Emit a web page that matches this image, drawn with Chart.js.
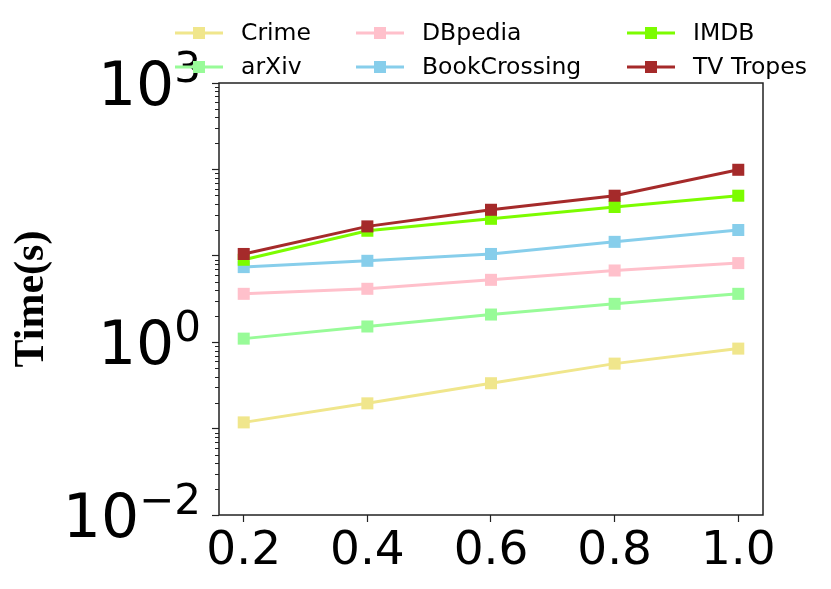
<!DOCTYPE html>
<html>
<head>
<meta charset="utf-8">
<script src="https://cdn.jsdelivr.net/npm/chart.js@4/dist/chart.umd.min.js"></script>
<style>
  html, body { margin: 0; padding: 0; background: #fff; }
  #timeChart { display: block; }
</style>
</head>
<body>
<canvas id="timeChart" width="831" height="589"></canvas>
<script>
// sampling ratio on the x axis
const ratios = [0.2, 0.4, 0.6, 0.8, 1.0];

// running time in seconds
const crime        = [0.118, 0.196, 0.335, 0.565, 0.843];
const arxiv        = [1.10, 1.52, 2.09, 2.78, 3.63];
const dbpedia      = [3.63, 4.15, 5.27, 6.76, 8.23];
const bookCrossing = [7.4, 8.75, 10.5, 14.5, 19.9];
const imdb         = [9.0, 19.5, 26.8, 36.7, 49.6];
const tvTropes     = [10.5, 21.9, 34.1, 49.6, 99.0];

const seriesNames  = ['Crime', 'arXiv', 'DBpedia', 'BookCrossing', 'IMDB', 'TV Tropes'];
const seriesValues = [crime, arxiv, dbpedia, bookCrossing, imdb, tvTropes];
const seriesColors = ['#f0e68c', '#98fb98', '#ffc0cb', '#87ceeb', '#7cfc00', '#a52a2a'];

const xTickValues = [0.2, 0.4, 0.6, 0.8, 1.0];
const yTickValues = [0.01, 0.1, 1, 10, 100, 1000];
// only these decades get a label (base 10 + exponent)
const yLabelled = [0.01, 1, 1000];
const yExponents = ['\u22122', '0', '3'];

const axisColor = '#222';

const datasets = seriesNames.map((name, i) => ({
  label: name,
  data: ratios.map((r, j) => ({ x: r, y: seriesValues[i][j] })),
  borderColor: seriesColors[i],
  backgroundColor: seriesColors[i],
  borderWidth: 3,
  pointStyle: 'rect',
  pointRadius: 8.5,
  pointHoverRadius: 8.5,
  pointBorderWidth: 0,
  order: seriesNames.length - i,
  tension: 0
}));

// box around the plot, minor log ticks, and 10^n labels with a raised exponent
const framePlugin = {
  id: 'frame',
  afterDraw(chart) {
    const { ctx, chartArea: a } = chart;
    const y = chart.scales.y;
    ctx.save();
    ctx.strokeStyle = axisColor;
    ctx.lineWidth = 1.5;
    ctx.strokeRect(a.left, a.top, a.right - a.left, a.bottom - a.top);
    ctx.lineWidth = 1;
    for (let e = -2; e < 3; e++) {
      for (let k = 2; k <= 9; k++) {
        const py = Math.round(y.getPixelForValue(k * Math.pow(10, e))) + 0.5;
        ctx.beginPath();
        ctx.moveTo(a.left - 4, py);
        ctx.lineTo(a.left, py);
        ctx.stroke();
      }
    }

    const baseFont = '60px "DejaVu Sans"';
    const expFont = '42px "DejaVu Sans"';
    const rightEdge = a.left - 18;
    ctx.fillStyle = '#000';
    ctx.textAlign = 'left';
    ctx.textBaseline = 'alphabetic';
    yLabelled.forEach((v, i) => {
      const py = y.getPixelForValue(v);
      ctx.font = baseFont;
      const wBase = ctx.measureText('10').width;
      ctx.font = expFont;
      const wExp = ctx.measureText(yExponents[i]).width;
      const x0 = rightEdge - wBase - wExp;
      ctx.font = baseFont;
      ctx.fillText('10', x0, py + 22);
      ctx.font = expFont;
      ctx.fillText(yExponents[i], x0 + wBase, py - 1);
    });
    ctx.restore();
  }
};

// legend in three columns, two rows, above the plot
const legendPlugin = {
  id: 'gridLegend',
  afterDraw(chart) {
    const { ctx } = chart;
    const cols = [175, 356, 627];
    const rows = [33, 67];
    ctx.save();
    ctx.font = '23.5px "DejaVu Sans"';
    ctx.textBaseline = 'middle';
    chart.data.datasets.forEach((ds, i) => {
      const x0 = cols[Math.floor(i / 2)];
      const y0 = rows[i % 2];
      ctx.strokeStyle = ds.borderColor;
      ctx.lineWidth = 3;
      ctx.beginPath();
      ctx.moveTo(x0, y0);
      ctx.lineTo(x0 + 48, y0);
      ctx.stroke();
      ctx.fillStyle = ds.backgroundColor;
      ctx.fillRect(x0 + 24 - 6, y0 - 6, 12, 12);
      ctx.fillStyle = '#000';
      ctx.fillText(ds.label, x0 + 66, y0 + 1);
    });
    ctx.restore();
  }
};

new Chart(document.getElementById('timeChart'), {
  type: 'line',
  data: { datasets: datasets },
  options: {
    responsive: false,
    animation: false,
    devicePixelRatio: 1,
    layout: { padding: { top: 83, right: 68, left: 0, bottom: 0 } },
    plugins: {
      legend: { display: false },
      tooltip: { enabled: false }
    },
    scales: {
      x: {
        type: 'linear',
        min: 0.16,
        max: 1.04,
        afterBuildTicks: scale => {
          scale.ticks = xTickValues.map(v => ({ value: v }));
        },
        afterFit: scale => { scale.height = 74; },
        ticks: {
          autoSkip: false,
          maxRotation: 0,
          padding: 2,
          color: '#000',
          font: { family: 'DejaVu Sans', size: 47 },
          callback: v => v.toFixed(1)
        },
        grid: { drawOnChartArea: false, tickLength: 7, color: axisColor, tickWidth: 1.2 },
        border: { display: false }
      },
      y: {
        type: 'logarithmic',
        min: 0.01,
        max: 1000,
        afterBuildTicks: scale => {
          scale.ticks = yTickValues.map(v => ({ value: v }));
        },
        afterFit: scale => { scale.width = 219; },
        ticks: {
          autoSkip: false,
          padding: 12,
          font: { family: 'DejaVu Sans', size: 20 },
          callback: () => ''
        },
        grid: { drawOnChartArea: false, tickLength: 7, color: axisColor, tickWidth: 1.2 },
        border: { display: false },
        title: {
          display: true,
          text: 'Time(s)',
          color: '#000',
          padding: { top: 7, bottom: 0 },
          font: { family: 'Liberation Serif', size: 42, weight: 'bold' }
        }
      }
    }
  },
  plugins: [framePlugin, legendPlugin]
});
</script>
</body>
</html>
